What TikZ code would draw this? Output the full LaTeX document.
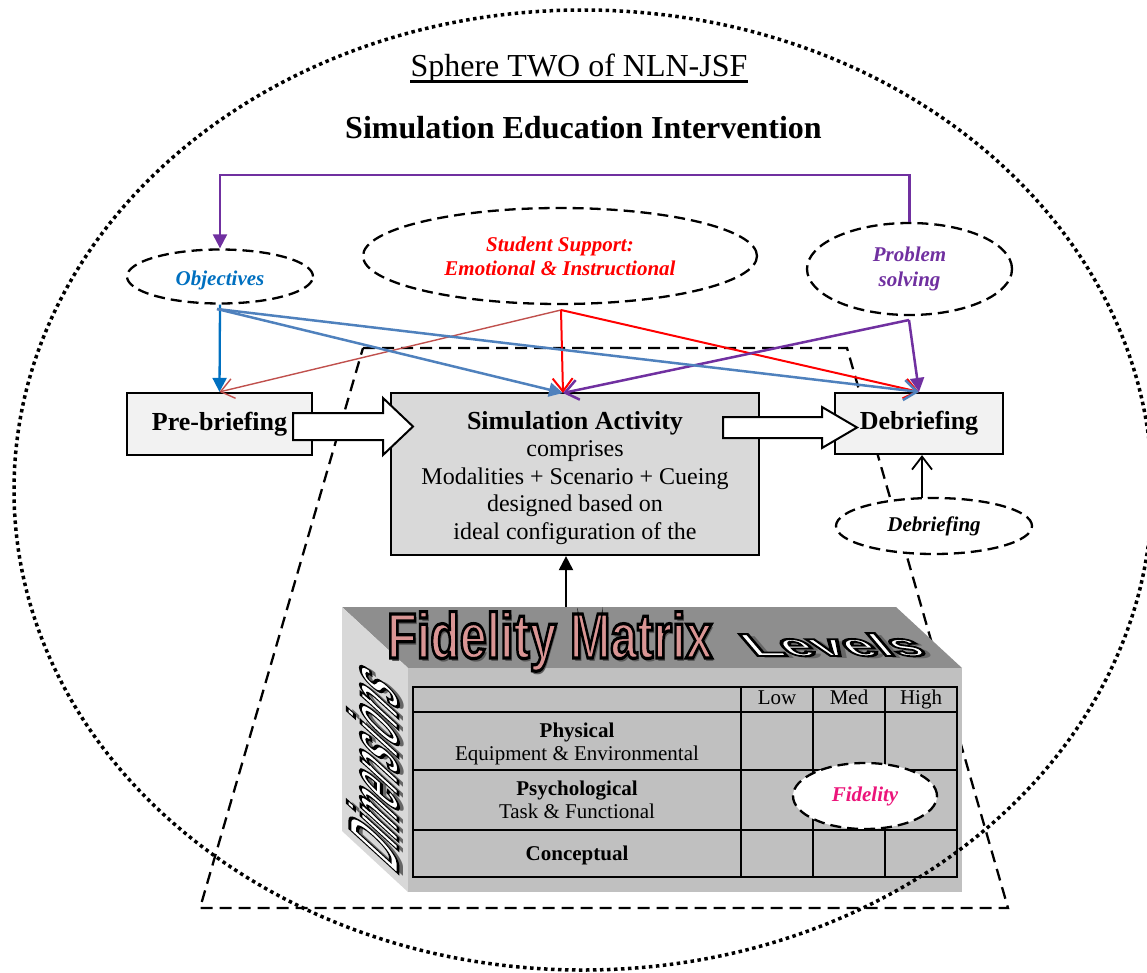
\documentclass[tikz,border=0pt]{standalone}
\usepackage{fontspec}
\setmainfont{Liberation Serif}
\newfontfamily\artfont{Liberation Sans}
\usetikzlibrary{arrows.meta,shapes.geometric,calc}

\definecolor{objblue}{HTML}{0070C0}
\definecolor{steelblue}{HTML}{4F81BD}
\definecolor{linkpurple}{HTML}{7030A0}
\definecolor{brick}{HTML}{C0504D}
\definecolor{rose}{RGB}{217,149,148}
\definecolor{fidpink}{RGB}{236,20,122}
\definecolor{paleface}{HTML}{F2F2F2}
\definecolor{simface}{HTML}{D9D9D9}
\definecolor{topface}{RGB}{142,142,142}
\definecolor{frontface}{RGB}{192,192,192}
\definecolor{sideface}{RGB}{216,216,216}

% outlined display lettering: a soft shadow copy, then the glyphs filled
% and stroked in black (PDF text render mode 2)
\newcommand\wordart[4]{%
  \rlap{\kern3pt\raisebox{-3pt}{\textcolor{#3}{#4}}}%
  \textcolor{#2}{\special{pdf:code 0 0 0 RG #1 w 2 Tr}#4\special{pdf:code 0 Tr}}}

\begin{document}
\begin{tikzpicture}[x=1pt,y=-1pt,
  bubble/.style={ellipse, draw, dash pattern=on 11pt off 6pt, line width=2.3pt,
    fill=white, inner sep=0pt, align=center,
    font=\fontsize{21}{24}\selectfont\bfseries\itshape},
  stage/.style={rectangle, draw, line width=2.2pt, fill=paleface, inner sep=0pt,
    font=\fontsize{26}{30}\selectfont\bfseries},
  blockarrow/.style={draw, line width=2pt, fill=white, line join=miter},
  filledtip/.style={-{Triangle[length=14pt,width=14pt]}},
  opentip/.style={-{Straight Barb[length=13pt,width=20pt]}},
  cell/.style={font=\fontsize{21}{23}\selectfont, align=center, inner sep=0pt},
  hdcell/.style={cell, text height=14pt, text depth=4.5pt},
  gridline/.style={line width=2pt}
]
\useasboundingbox (0,0) rectangle (1147,973);

% dashed trapezoid framing the fidelity concept
\draw[line width=2.3pt, dash pattern=on 12pt off 7pt]
  (363,348) -- (847,348) -- (1008,908) -- (200,908) -- cycle;

% ---- Fidelity matrix cube ----
\fill[topface] (342,607) -- (896,607) -- (962,668) -- (408,668) -- cycle;
\fill[sideface] (342,607) -- (408,668) -- (408,892) -- (342,831) -- cycle;
\fill[frontface] (408,668) rectangle (962,892);

\draw[gridline] (413,687) rectangle (957,877);
\draw[gridline] (413,712) -- (957,712);
\draw[gridline] (413,770) -- (957,770);
\draw[gridline] (413,830) -- (957,830);
\draw[gridline] (741,687) -- (741,877);
\draw[gridline] (813,687) -- (813,877);
\draw[gridline] (885,687) -- (885,877);

\node[hdcell] (lowhd) at (777,699.5) {Low};
\node[hdcell] (medhd) at (849,699.5) {Med};
\node[hdcell] (highhd) at (921,699.5) {High};
\node[cell] (physical) at (577,744) {\textbf{Physical}\\Equipment \& Environmental};
\node[cell] (psychological) at (577,800) {\textbf{Psychological}\\Task \& Functional};
\node[cell] (conceptual) at (577,855) {\textbf{Conceptual}};

\node[bubble, minimum width=144pt, minimum height=66pt, text=fidpink] (fid) at (865,796) {Fidelity};

\node[anchor=base west, inner sep=0pt, font=\artfont\bfseries\fontsize{64}{64}\selectfont]
  (fmtitle) at (387,658) {\scalebox{0.756}[1]{\wordart{3.2}{rose}{black!65}{Fidelity Matrix}}};

\begin{scope}[shift={(754,656)}]
  \node[anchor=base west, inner sep=0pt, cm={1.56,0,-0.75,0.88,(0,0)}, transform shape,
    font=\artfont\bfseries\fontsize{36}{36}\selectfont]
    (levels) at (0,0) {\wordart{2.2}{white}{black!60}{Levels}};
\end{scope}

\begin{scope}[shift={(398,876)}]
  \node[anchor=base west, inner sep=0pt, cm={0,0.8,-1.75,1.6,(0,0)}, transform shape,
    font=\artfont\bfseries\fontsize{40}{40}\selectfont]
    (dims) at (0,0) {\wordart{1.6}{white}{black!60}{Dimensions}};
\end{scope}

% ---- stages ----
\node[stage, minimum width=185pt, minimum height=62pt] (pre) at (219.5,424) {Pre-briefing};
\node[stage, minimum width=168pt, minimum height=61pt] (deb) at (919,423.5) {Debriefing};
\node[stage, fill=simface, minimum width=368pt, minimum height=162pt, align=center,
  font=\fontsize{24}{27.5}\selectfont] (sim) at (575,474)
  {\rule{0pt}{26pt}{\fontsize{26}{27.5}\selectfont\bfseries Simulation Activity}\\
   comprises\\
   Modalities + Scenario + Cueing\\
   designed based on\\
   ideal configuration of the};

% ---- influence bubbles ----
\node[bubble, minimum width=186pt, minimum height=54pt, text=objblue,
  text height=22pt, text depth=3pt] (obj) at (220,276.5) {Objectives};
\node[bubble, minimum width=394pt, minimum height=96pt, text=red] (sup) at (560,256)
  {Student Support:\\Emotional \& Instructional};
\node[bubble, minimum width=205pt, minimum height=92pt, text=linkpurple,
  font=\fontsize{21}{25}\selectfont\bfseries\itshape] (ps) at (909.5,269) {Problem\\solving};
\node[bubble, minimum width=196pt, minimum height=56pt] (debell) at (934,526) {Debriefing};

% ---- block arrows between stages ----
\draw[blockarrow] (293,413) -- (383,413) -- (383,398) -- (413,426.5) -- (383,455)
  -- (383,440) -- (293,440) -- cycle;
\draw[blockarrow] (723,417) -- (822,417) -- (822,407) -- (857,427.5) -- (822,448)
  -- (822,438) -- (723,438) -- cycle;

% ---- connectors ----
\coordinate (bar) at (0,175);
\coordinate (objfoot) at (217,309);
\coordinate (supfoot) at (561,310);
\coordinate (psfoot) at (909,320);
\coordinate (simtop) at (563,393);
\coordinate (mtop) at (566,607);
\coordinate (debfeed) at (922,498);

\draw[linkpurple, line width=2.2pt, filledtip]
  (ps.north) -- (ps.north |- bar) -- (obj.north |- bar) -- (obj.north);
\draw[objblue, line width=2.3pt, filledtip] (obj.south) -- (pre.north);
\draw[brick, line width=1.4pt, opentip] (supfoot) -- (pre.north);
\draw[steelblue, line width=2.5pt, filledtip] (objfoot) -- (simtop);
\draw[red, line width=2pt, opentip] (supfoot) -- (simtop);
\draw[red, line width=2pt, opentip] (supfoot) -- (deb.north);
\draw[linkpurple, line width=2.5pt, opentip] (psfoot) -- (simtop);
\draw[steelblue, line width=2.5pt, opentip] (objfoot) -- (deb.north);
\draw[linkpurple, line width=2.5pt, filledtip] (psfoot) -- (deb.north);

\draw[line width=2pt, filledtip] (mtop) -- (mtop |- sim.south);
\draw[line width=1.8pt, opentip] (debfeed) -- (debfeed |- deb.south);

% ---- headings ----
\node[anchor=base, inner sep=0pt, font=\fontsize{32}{38}\selectfont] (sphere) at (579,77)
  {Sphere TWO of NLN-JSF};
\draw[line width=2.3pt] ([yshift=-4.5pt]sphere.base west) -- ([yshift=-4.5pt]sphere.base east);
\node[anchor=base, inner sep=0pt, font=\fontsize{32}{38}\selectfont\bfseries] (intervention)
  at (583.5,139) {Simulation Education Intervention};

% ---- dotted sphere boundary ----
\draw[line width=3.5pt, dash pattern=on 3.5pt off 3.5pt]
  (583,490) ellipse [x radius=569, y radius=480];
\end{tikzpicture}
\end{document}
